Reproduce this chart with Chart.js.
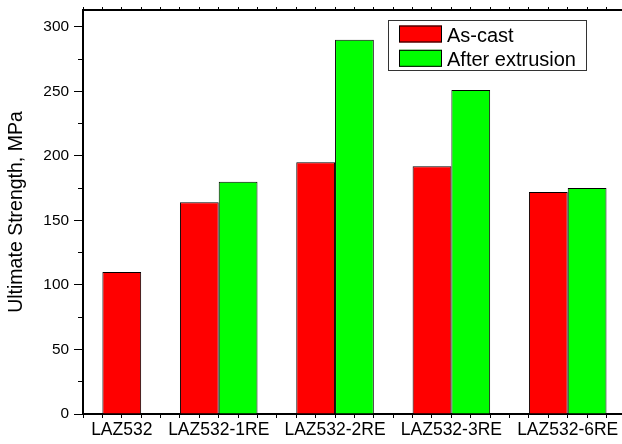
<!DOCTYPE html>
<html>
<head>
<meta charset="utf-8">
<script src="https://cdn.jsdelivr.net/npm/chart.js@4/dist/chart.umd.min.js"></script>
<style>
  html, body { margin: 0; padding: 0; background: #fff; }
  #chart { display: block; }
</style>
</head>
<body>
<canvas id="chart" width="622" height="444"></canvas>
<script>
// values
const categories = ['LAZ532', 'LAZ532-1RE', 'LAZ532-2RE', 'LAZ532-3RE', 'LAZ532-6RE'];
const asCast = [110, 164, 195, 192, 172];
const afterExtrusion = [null, 180, 290, 251, 175];
// x column of the original plot (one slot per bar)
const asCastSlot = [1, 3, 6, 9, 12];
const extrusionSlot = [null, 4, 7, 10, 13];
const seriesNames = ['As-cast', 'After extrusion'];
const yMax = 313;
const xMax = 13.9;

const FONT = "Arial, 'Liberation Sans', Helvetica, sans-serif";

// label sits in the middle of each group
const labelSlot = categories.map((c, i) => {
    const s = [asCastSlot[i], extrusionSlot[i]].filter(v => v !== null);
    return s.reduce((a, b) => a + b, 0) / s.length;
});

const toPoints = (vals, slots) => vals
    .map((v, i) => ({ x: slots[i], y: v }))
    .filter(p => p.y !== null);

const noPadX = s => { s.paddingLeft = 0; s.paddingRight = 0; };
const noPadY = s => { s.paddingTop = 0; s.paddingBottom = 0; };

// legend drawn in a box inside the plot
const boxLegend = {
    id: 'boxLegend',
    afterDraw(chart) {
        const ctx = chart.ctx;
        ctx.save();
        ctx.strokeStyle = '#333';
        ctx.lineWidth = 1;
        ctx.strokeRect(388.5, 20.5, 198, 50);
        chart.data.datasets.forEach((ds, i) => {
            const sy = 25.5 + i * 24.3;
            ctx.fillStyle = ds.backgroundColor;
            ctx.fillRect(399, sy, 43, 17);
            ctx.strokeStyle = '#000';
            ctx.strokeRect(399.5, sy + 0.5, 42, 16);
            ctx.fillStyle = '#000';
            ctx.font = '20px ' + FONT;
            ctx.textBaseline = 'alphabetic';
            ctx.textAlign = 'left';
            ctx.fillText(ds.label, 447, sy + 16);
        });
        ctx.restore();
    }
};

new Chart(document.getElementById('chart'), {
    type: 'bar',
    data: {
        datasets: [{
            label: seriesNames[0],
            data: toPoints(asCast, asCastSlot),
            backgroundColor: '#FF0000',
            borderColor: '#000',
            borderWidth: 1
        }, {
            label: seriesNames[1],
            data: toPoints(afterExtrusion, extrusionSlot),
            backgroundColor: '#00FF00',
            borderColor: '#000',
            borderWidth: 1
        }]
    },
    options: {
        responsive: false,
        animation: false,
        layout: { padding: 0 },
        // ticks are every half slot, so a bar spans two tick gaps
        datasets: { bar: { grouped: false, barPercentage: 2, categoryPercentage: 1 } },
        plugins: { legend: { display: false }, tooltip: { enabled: false } },
        scales: {
            x: {
                type: 'linear', position: 'bottom', min: 0, max: xMax, offset: false,
                border: { display: true, color: '#000', width: 2 },
                grid: { offset: false, drawOnChartArea: false, tickLength: 4, tickColor: '#000', tickWidth: 1 },
                ticks: {
                    stepSize: 0.5, includeBounds: false, autoSkip: false,
                    maxRotation: 0, minRotation: 0, padding: 2, color: '#000',
                    font: { family: FONT, size: 17.5 },
                    callback: v => {
                        const i = labelSlot.findIndex(p => Math.abs(p - v) < 1e-6);
                        return i >= 0 ? categories[i] : '';
                    }
                },
                afterFit: s => { s.height = 30; noPadX(s); }
            },
            x2: {
                type: 'linear', position: 'top', min: 0, max: xMax, offset: false,
                border: { display: true, color: '#000', width: 2 },
                grid: { offset: false, drawOnChartArea: false, tickLength: 3, tickColor: '#000', tickWidth: 1 },
                ticks: { display: false, stepSize: 0.5, includeBounds: false },
                afterFit: s => { s.height = 10; noPadX(s); }
            },
            y: {
                type: 'linear', position: 'left', min: 0, max: yMax, weight: 0,
                border: { display: true, color: '#000', width: 2 },
                grid: { drawOnChartArea: false, tickLength: 9, tickColor: '#000', tickWidth: 1 },
                ticks: { stepSize: 50, includeBounds: false, padding: 5, color: '#000', font: { family: FONT, size: 15.4 } },
                title: {
                    display: true, text: 'Ultimate Strength, MPa', color: '#000',
                    font: { family: FONT, size: 19.5 }, padding: { top: 5, bottom: 0 }
                },
                afterFit: s => { s.width = 83; noPadY(s); }
            },
            y2: {
                type: 'linear', position: 'left', min: 0, max: yMax, weight: -1,
                border: { display: false },
                grid: { drawOnChartArea: false, tickLength: 5, tickColor: '#000', tickWidth: 1 },
                ticks: { display: false, stepSize: 25, includeBounds: false },
                afterFit: s => { s.width = 0; noPadY(s); }
            }
        }
    },
    plugins: [boxLegend]
});
</script>
</body>
</html>
